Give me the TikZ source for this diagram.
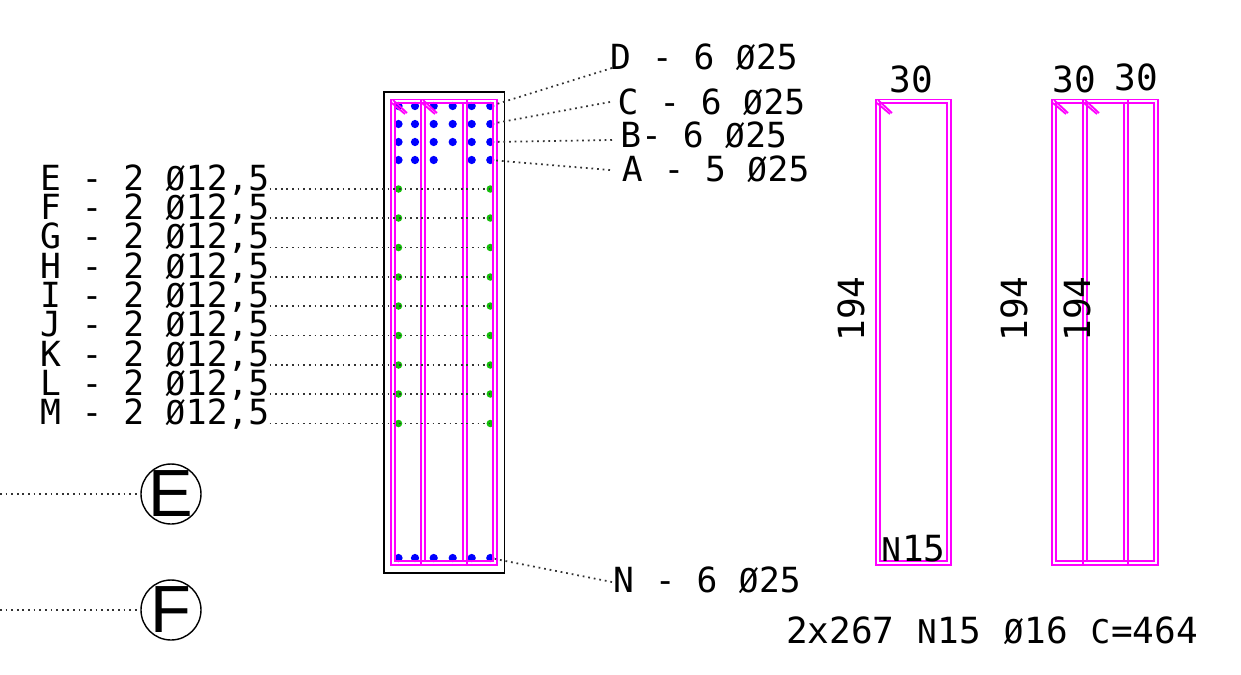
\documentclass[tikz,border=0pt]{standalone}
\usepackage{fontspec}
\setmainfont{DejaVu Sans Mono}
\newfontfamily\circlefont{Liberation Sans}
\usetikzlibrary{calc,shapes,positioning}
\definecolor{stirrupc}{RGB}{255,0,255}
\definecolor{barblue}{RGB}{0,0,255}
\definecolor{bargreen}{RGB}{20,190,10}
\newcommand{\smch}[1]{\makebox[0.602em][c]{\fontsize{18.6}{19}\selectfont #1}}

\begin{document}
\begin{tikzpicture}[x=0.02cm,y=-0.02cm]
      \tikzstyle{lnode} = [inner sep = 0pt, font=\fontsize{19.7}{20}\selectfont]
      \tikzstyle{dnode} = [inner sep = 0pt, font=\fontsize{20.5}{21}\selectfont]
      \tikzstyle{bnode} = [circle, fill=barblue, inner sep = 0pt, minimum size = 0.165cm]
      \tikzstyle{gnode} = [circle, fill=bargreen, inner sep = 0pt, minimum size = 0.15cm]
      \tikzstyle{cnode} = [circle, draw, line width=0.8pt, inner sep = -3pt, minimum size = 1.2cm, font=\circlefont\fontsize{38}{38}\selectfont]
      \tikzstyle{leader} = [line width=1pt, dash pattern=on 1pt off 2.2pt, black!80]
      \tikzstyle{iron} = [draw=stirrupc, line width=1.05pt]

      \useasboundingbox (0,0) rectangle (1241,674);

      % section
      \draw[line width=1pt] (384,92) rectangle (504.5,573);

      % top bars
      \foreach \n/\x in {1/398.5,2/415,3/433.7,4/452.7,5/471.7,6/490.3} {
        \node[bnode] (d\n) at (\x,106) {};
        \node[bnode] (c\n) at (\x,124) {};
        \node[bnode] (b\n) at (\x,142) {};
        \node[bnode] (n\n) at (\x,558) {};
      }
      \foreach \n/\x in {1/398.5,2/415,3/433.7,5/471.7,6/490.3} {
        \node[bnode] (a\n) at (\x,160) {};
      }

      % side bars
      \foreach \n/\y in {e/189,f/218,g/247.5,h/277,i/306,j/335.5,k/365,l/394,m/423.5} {
        \node[gnode] (\n1) at (398.5,\y) {};
        \node[gnode] (\n2) at (490.3,\y) {};
      }

      % stirrups
      \foreach \xa/\xb in {391/467,421/497,1052/1128,1083/1158} {
        \draw[iron] (\xa,99.5) rectangle (\xb,565);
        \draw[iron] (\xa+4,103) rectangle (\xb-4,561);
        \draw[iron] (\xa+2,100) -- ++(14,13);
        \draw[iron] (\xa+1,103) -- ++(13,11);
      }
      \draw[iron] (876,99.5) rectangle (951,565);
      \draw[iron] (880,103) rectangle (947,561);
      \draw[iron] (878,100) -- ++(14,13);
      \draw[iron] (877,103) -- ++(13,11);

      % labels
      \node[lnode, anchor=base] (ld) at (704,69) {D - 6 \smch{Ø}25};
      \node[lnode, anchor=base] (lc) at (711.4,114) {C - 6 \smch{Ø}25};
      \node[lnode, anchor=base] (lb) at (703.7,147.7) {B- 6 \smch{Ø}25};
      \node[lnode, anchor=base] (la) at (715.6,181) {A - 5 \smch{Ø}25};
      \node[lnode, anchor=base] (ln) at (707,592) {N - 6 \smch{Ø}25};

      \foreach \n/\t/\y in {e/E/190,f/F/219,g/G/248.5,h/H/278,i/I/307,j/J/336.5,k/K/366,l/L/395,m/M/424.5} {
        \node[lnode, anchor=base west] (l\n) at (39.7,\y) {\t\ - 2 \smch{Ø}12,5};
        \draw[leader] (l\n.east |- \n2.center) -- (\n2.center);
      }

      \coordinate (endd) at (612,68);
      \coordinate (endc) at (610,102);
      \coordinate (endb) at (612,140);
      \coordinate (enda) at (610,170);
      \coordinate (endn) at (612,582);
      \draw[leader] (endd) -- (d6);
      \draw[leader] (endc) -- (c6);
      \draw[leader] (endb) -- (b6);
      \draw[leader] (enda) -- (a6);
      \draw[leader] (endn) -- (n6);

      % dimensions
      \node[dnode, anchor=base] (w1) at (911,92) {30};
      \node[dnode, anchor=base] (w2) at (1074,92) {30};
      \node[dnode, anchor=base] (w3) at (1136,90) {30};
      \node[dnode, rotate=90] (h1) at (851,309) {194};
      \node[dnode, rotate=90] (h2) at (1014,309) {194};
      \node[dnode, rotate=90] (h3) at (1077,309) {194};
      \node[dnode, anchor=base] (mark) at (913,561) {\smch{N}15};
      \node[dnode, anchor=base] (total) at (992,643) {2x267 \smch{N}15 \smch{Ø}16 \smch{C}=464};

      % axes
      \node[cnode] (axe) at (171,494) {E};
      \node[cnode] (axf) at (171,610) {F};
      \coordinate (ende) at (0,494);
      \coordinate (endf) at (0,610);
      \draw[leader] (ende) -- (axe);
      \draw[leader] (endf) -- (axf);
\end{tikzpicture}
\end{document}
